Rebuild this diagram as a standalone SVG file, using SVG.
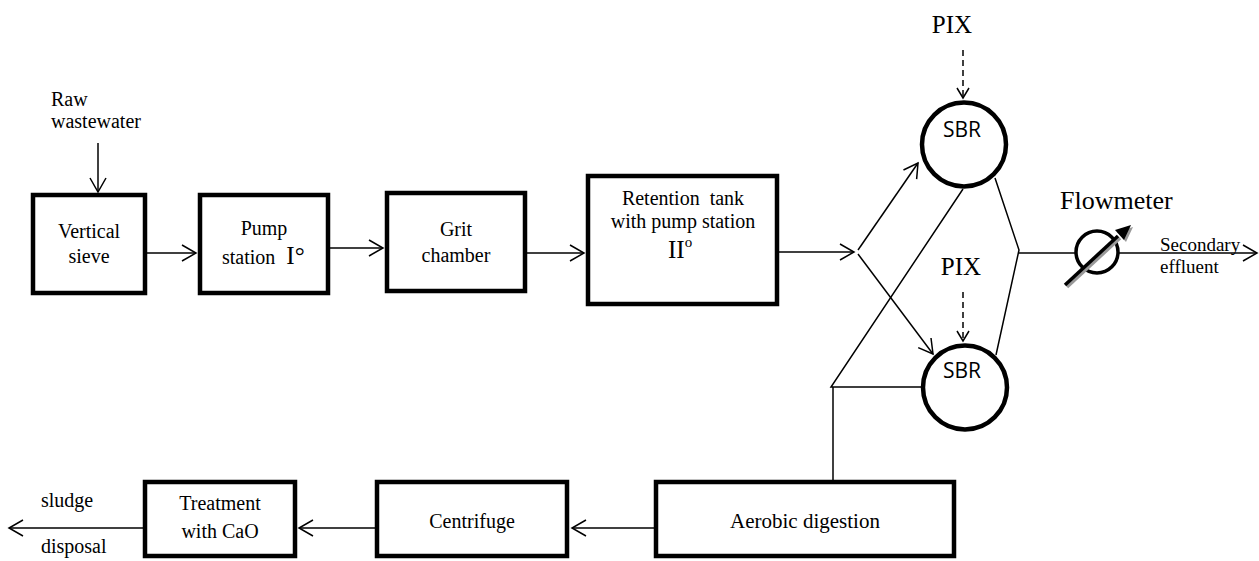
<svg xmlns="http://www.w3.org/2000/svg" width="1259" height="561" viewBox="0 0 1259 561">
<defs>
<style>
.box{fill:#fff;stroke:#000;stroke-width:4.5}
.t{font-family:"Liberation Serif","Times New Roman",serif;font-size:20px;fill:#000}
.c{text-anchor:middle}
.s{font-family:"Open Sans","Liberation Sans",sans-serif;font-size:21px;fill:#000;text-anchor:middle}
.ln{fill:none;stroke:#000;stroke-width:1.5}
.dash{fill:none;stroke:#000;stroke-width:1.5;stroke-dasharray:6 4}
.circ{fill:#fff;stroke:#000;stroke-width:4.5}
</style>
<marker id="oa" viewBox="-16 -10 18 20" refX="0" refY="0" markerWidth="18" markerHeight="20" markerUnits="userSpaceOnUse" orient="auto">
<path d="M-14,-8 L0,0 L-14,8" fill="none" stroke="#000" stroke-width="1.5"/>
</marker>
<marker id="da" viewBox="-12 -8 14 16" refX="0" refY="0" markerWidth="14" markerHeight="16" markerUnits="userSpaceOnUse" orient="auto">
<path d="M-10,-6 L0,0 L-10,6" fill="none" stroke="#000" stroke-width="1.5"/>
</marker>
</defs>
<rect width="1259" height="561" fill="#fff"/>

<g id="connectors">
<line class="ln" x1="98" y1="143" x2="98" y2="192" marker-end="url(#oa)"/>
<line class="ln" x1="147" y1="253" x2="196" y2="253" marker-end="url(#oa)"/>
<line class="ln" x1="330" y1="248" x2="383" y2="248" marker-end="url(#oa)"/>
<line class="ln" x1="527" y1="253" x2="584" y2="253" marker-end="url(#oa)"/>
<line class="ln" x1="779" y1="252" x2="854" y2="252" marker-end="url(#oa)"/>
<line class="ln" x1="858" y1="250" x2="918" y2="163" marker-end="url(#oa)"/>
<line class="ln" x1="858" y1="254" x2="933" y2="354" marker-end="url(#oa)"/>
<line class="dash" x1="963" y1="50" x2="963" y2="98" marker-end="url(#da)"/>
<line class="dash" x1="963" y1="292" x2="963" y2="341" marker-end="url(#da)"/>
<polyline class="ln" points="963,189 831,387 921,387"/>
<line class="ln" x1="833" y1="387" x2="833" y2="480"/>
<polyline class="ln" points="995,178 1019,250 996,355"/>
<line class="ln" x1="1019" y1="253" x2="1257" y2="253" marker-end="url(#oa)"/>
<line class="ln" x1="654" y1="528" x2="572" y2="528" marker-end="url(#oa)"/>
<line class="ln" x1="375" y1="528" x2="299" y2="528" marker-end="url(#oa)"/>
<line class="ln" x1="143" y1="528" x2="9" y2="528" marker-end="url(#oa)"/>
</g>

<g id="raw-wastewater">
<text class="t" x="51" y="106">Raw</text>
<text class="t" x="51" y="128">wastewater</text>
</g>

<g id="vertical-sieve">
<rect class="box" x="33" y="195" width="112" height="98"/>
<text class="t c" x="89" y="238">Vertical</text>
<text class="t c" x="89" y="263">sieve</text>
</g>

<g id="pump-station-1">
<rect class="box" x="200" y="195" width="128" height="98"/>
<text class="t c" x="264" y="235">Pump</text>
<text class="t" x="222" y="264">station <tspan style="font-size:25px" dx="6">I°</tspan></text>
</g>

<g id="grit-chamber">
<rect class="box" x="387" y="193" width="138" height="98"/>
<text class="t c" x="456" y="236">Grit</text>
<text class="t c" x="456" y="262">chamber</text>
</g>

<g id="retention-tank">
<rect class="box" x="588" y="176" width="189" height="128"/>
<text class="t c" x="683" y="205" xml:space="preserve">Retention  tank</text>
<text class="t c" x="683" y="228">with pump station</text>
<text class="t" x="668" y="258" style="font-size:25px">II<tspan style="font-size:15px" dy="-11">o</tspan></text>
</g>

<g id="pix-top">
<text class="t c" x="952" y="33" style="font-size:25px">PIX</text>
</g>

<g id="sbr-top">
<circle class="circ" cx="964" cy="144.5" r="42"/>
<text class="s" x="962" y="137">SBR</text>
</g>

<g id="pix-bottom">
<text class="t c" x="961" y="275" style="font-size:25px">PIX</text>
</g>

<g id="sbr-bottom">
<circle class="circ" cx="965" cy="387.5" r="42"/>
<text class="s" x="962" y="378">SBR</text>
</g>

<g id="flowmeter">
<text class="t" x="1060" y="209" style="font-size:26px">Flowmeter</text>
<circle cx="1097" cy="252" r="21" fill="#fff" stroke="#000" stroke-width="3.5"/>
<line x1="1067" y1="287" x2="1120" y2="238" stroke="#999" stroke-width="3.5"/>
<polygon points="1133,227 1117,232 1126,242" fill="#999"/>
<line x1="1065" y1="285" x2="1118" y2="236" stroke="#000" stroke-width="3.5"/>
<polygon points="1131,225 1115,230 1124,240" fill="#000"/>
</g>

<g id="secondary-effluent">
<text class="t" x="1160" y="251" style="font-size:19px">Secondary</text>
<text class="t" x="1160" y="273" style="font-size:19px">effluent</text>
</g>

<g id="aerobic-digestion">
<rect class="box" x="656" y="482" width="298" height="74"/>
<text class="t c" x="805" y="528" style="font-size:21px">Aerobic digestion</text>
</g>

<g id="centrifuge">
<rect class="box" x="377" y="482" width="190" height="74"/>
<text class="t c" x="472" y="528">Centrifuge</text>
</g>

<g id="treatment-cao">
<rect class="box" x="145" y="482" width="150" height="74"/>
<text class="t c" x="220" y="510">Treatment</text>
<text class="t c" x="220" y="538">with CaO</text>
</g>

<g id="sludge-disposal">
<text class="t" x="41" y="507">sludge</text>
<text class="t" x="41" y="553">disposal</text>
</g>
</svg>
